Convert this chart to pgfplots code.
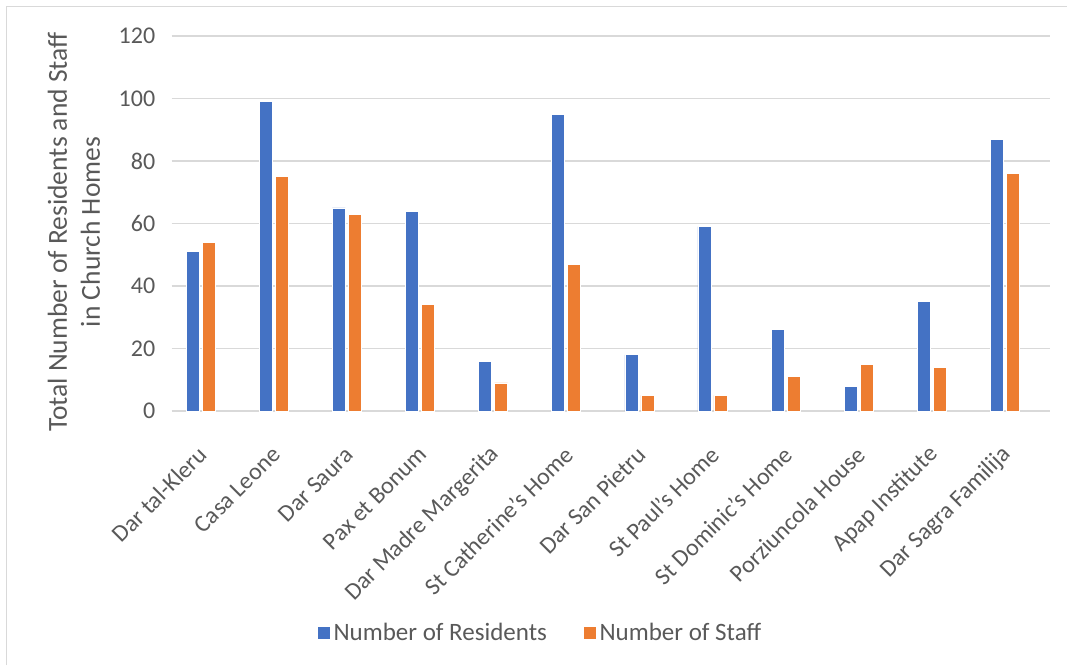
\documentclass[border=0pt]{standalone}
\usepackage{fontspec}
\setmainfont{Carlito}
\usepackage{pgfplots}
\pgfplotsset{compat=1.18}

\definecolor{resblue}{HTML}{4472C4}
\definecolor{staffor}{HTML}{ED7D31}
\definecolor{gridgray}{HTML}{D9D9D9}
\definecolor{txtgray}{HTML}{595959}

\begin{document}
\begin{tikzpicture}[x=1pt,y=1pt]
  \useasboundingbox (0,0) rectangle (1067,665);
  % chart frame (top and left edges are visible)
  \draw[gridgray, line width=1.5pt] (6.5,0) -- (6.5,658.5) -- (1067,658.5);

  \begin{axis}[
    at={(171.7pt,254pt)}, anchor=south west,
    scale only axis,
    width=878.3pt, height=375pt,
    ybar,
    xmin=-0.394, xmax=11.615,
    ymin=0, ymax=120,
    ytick={0,20,...,120},
    xtick={0,...,11},
    xticklabels={Dar tal-Kleru, Casa Leone, Dar Saura, Pax et Bonum,
      Dar Madre Margerita, St Catherine's Home, Dar San Pietru,
      St Paul's Home, St Dominic's Home, Porziuncola House,
      Apap Institute, Dar Sagra Familija},
    axis line style={draw=none},
    major tick length=0pt,
    ymajorgrids,
    grid style={gridgray, line width=1.5pt},
    tick label style={font=\fontsize{24}{28}\selectfont, text=txtgray},
    /pgf/number format/assume math mode=true,
    yticklabel style={xshift=-13pt},
    xticklabel style={rotate=45, anchor=east, xshift=-23pt, yshift=-30pt},
    legend style={
      at={(0.42,-0.592)}, anchor=center,
      draw=none, fill=none,
      font=\fontsize{25}{29}\selectfont, text=txtgray,
      nodes={inner sep=2.5pt},
      legend columns=2,
      /tikz/every even column/.append style={column sep=34pt}
    },
    legend cell align=left,
    legend image code/.code={
      \fill[#1] (0pt,-6.5pt) rectangle (13pt,6.5pt);
    },
  ]
  \addplot[fill=resblue, draw=white, line width=0.6pt, bar width=13pt, bar shift=-8pt]
    coordinates {(0,51) (1,99) (2,65) (3,64) (4,16) (5,95) (6,18) (7,59) (8,26) (9,8) (10,35) (11,87)};
  \addlegendentry{Number of Residents}
  \addplot[fill=staffor, draw=white, line width=0.6pt, bar width=13pt, bar shift=8pt]
    coordinates {(0,54) (1,75) (2,63) (3,34) (4,9) (5,47) (6,5) (7,5) (8,11) (9,15) (10,14) (11,76)};
  \addlegendentry{Number of Staff}
  \end{axis}

  \node[rotate=90, align=center, text=txtgray, font=\fontsize{27.5}{33}\selectfont]
    at (74,433) {Total Number of Residents and Staff\\in Church Homes};
\end{tikzpicture}
\end{document}
